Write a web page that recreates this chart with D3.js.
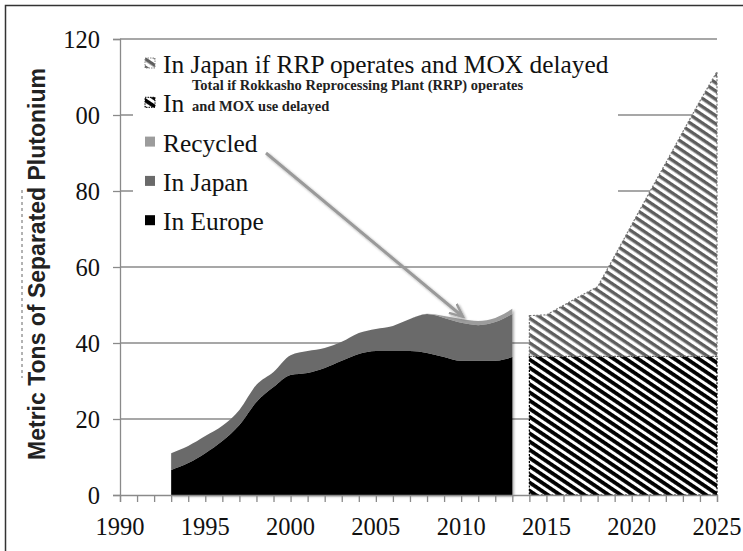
<!DOCTYPE html>
<html>
<head>
<meta charset="utf-8">
<script src="https://cdn.jsdelivr.net/npm/d3@7"></script>
<style>
  html, body { margin: 0; padding: 0; background: #fff; }
  svg { display: block; }
</style>
</head>
<body>
<svg id="chart" width="743" height="551"></svg>
<script>
// historical stock, metric tons
const years = [1993, 1994, 1995, 1996, 1997, 1998, 1999, 2000, 2001, 2002, 2003, 2004, 2005, 2006, 2007, 2008, 2009, 2010, 2011, 2012, 2013];
const inEurope = [6.6, 8.4, 11.0, 14.2, 18.4, 24.5, 28.4, 31.6, 32.1, 33.4, 35.3, 37.1, 37.9, 37.9, 37.9, 37.4, 36.3, 35.3, 35.3, 35.3, 36.3];
const inJapan = [4.4, 4.5, 4.5, 4.0, 4.0, 4.5, 4.0, 5.2, 5.8, 5.3, 5.0, 5.5, 5.8, 6.6, 8.4, 10.2, 10.3, 10.0, 9.4, 10.2, 11.3];
const recycled = [0, 0, 0, 0, 0, 0, 0, 0, 0, 0, 0, 0, 0, 0, 0, 0.1, 0.5, 1.0, 1.1, 1.1, 1.4];

// projection if RRP operates and MOX delayed
const projYears = [2014, 2015, 2016, 2017, 2018, 2019, 2020, 2021, 2022, 2023, 2024, 2025];
const projEurope = [36.5, 36.5, 36.5, 36.5, 36.5, 36.5, 36.5, 36.5, 36.5, 36.5, 36.5, 36.5];
const projJapan = [10.7, 10.9, 13.4, 15.9, 18.3, 26.4, 34.6, 42.8, 50.9, 59.1, 67.2, 74.9];

const yTicks = [0, 20, 40, 60, 80, 100, 120];
const yTickLabels = ['0', '20', '40', '60', '80', '00', '120'];
const xTickLabels = [1990, 1995, 2000, 2005, 2010, 2015, 2020, 2025];

const legendItems = [
  { key: 'jpRRP', label: 'In Japan if RRP operates and MOX delayed' },
  { key: 'euRRP', label: 'In Europe if RRP operates and MOX delayed' },
  { key: 'recycled', label: 'Recycled' },
  { key: 'japan', label: 'In Japan' },
  { key: 'europe', label: 'In Europe' }
];

const SERIF = '"Liberation Serif", "Times New Roman", serif';
const SANS = '"Liberation Sans", Arial, sans-serif';
const GRID = '#8a8a8a';

const svg = d3.select('#chart');
const x = d3.scaleLinear().domain([1990, 2025]).range([120, 717]);
const y = d3.scaleLinear().domain([0, 120]).range([495, 39]);

// patterns
const defs = svg.append('defs');
function stripes(id, color, w) {
  const p = defs.append('pattern').attr('id', id).attr('patternUnits', 'userSpaceOnUse')
    .attr('width', 10).attr('height', 6.8).attr('patternTransform', 'rotate(34)');
  p.append('rect').attr('width', 10).attr('height', 6.8).attr('fill', '#fff');
  p.append('rect').attr('y', 0).attr('width', 10).attr('height', w).attr('fill', color);
}
stripes('hatch-gray', '#5e5e5e', 3.4);
stripes('hatch-black', '#000', 3.8);
const sh = defs.append('filter').attr('id', 'shadow').attr('x', '-20%').attr('y', '-20%').attr('width', '140%').attr('height', '140%');
sh.append('feDropShadow').attr('dx', 1.5).attr('dy', 1.5).attr('stdDeviation', 1.2).attr('flood-color', '#000').attr('flood-opacity', 0.35);
defs.append('marker').attr('id', 'arrowhead').attr('viewBox', '0 -5 10 10').attr('refX', 8).attr('refY', 0)
  .attr('markerWidth', 5).attr('markerHeight', 5).attr('orient', 'auto').attr('markerUnits', 'strokeWidth')
  .append('path').attr('d', 'M0,-4L9,0L0,4').attr('fill', 'none').attr('stroke', '#9a9a9a').attr('stroke-width', 1.6);
defs.append('clipPath').attr('id', 'legend-cut')
  .append('rect').attr('x', 130).attr('y', 40).attr('width', 59).attr('height', 120);

// frame
svg.append('rect').attr('x', 5.5).attr('y', 5.5).attr('width', 760).attr('height', 560)
  .attr('fill', 'none').attr('stroke', '#333').attr('stroke-width', 1.5);

// gridlines
svg.append('g').selectAll('line').data(yTicks.slice(1)).join('line')
  .attr('x1', x(1990)).attr('x2', x(2025)).attr('y1', d => y(d)).attr('y2', d => y(d))
  .attr('stroke', GRID).attr('stroke-width', 1.3);

// historical stacked areas
const hist = years.map((yr, i) => ({ year: yr, europe: inEurope[i], japan: inJapan[i], recycled: recycled[i] }));
const histStack = d3.stack().keys(['europe', 'japan', 'recycled'])(hist);
const histColors = { europe: '#000', japan: '#6a6a6a', recycled: '#9c9c9c' };
const area = d3.area().x(d => x(d.data.year)).y0(d => y(d[0])).y1(d => y(d[1])).curve(d3.curveMonotoneX);
const histG = svg.append('g').attr('filter', 'url(#shadow)');
histG.selectAll('path').data(histStack).join('path')
  .attr('d', area).attr('fill', d => histColors[d.key]);

// projection stacked areas
const proj = projYears.map((yr, i) => ({ year: yr, euRRP: projEurope[i], jpRRP: projJapan[i] }));
const projStack = d3.stack().keys(['euRRP', 'jpRRP'])(proj);
const projArea = d3.area().x(d => x(d.data.year)).y0(d => y(d[0])).y1(d => y(d[1]));
const projFill = { euRRP: 'url(#hatch-black)', jpRRP: 'url(#hatch-gray)' };
const projStroke = { euRRP: '#000', jpRRP: '#777' };
svg.append('g').selectAll('path').data(projStack).join('path')
  .attr('d', projArea).attr('fill', d => projFill[d.key])
  .attr('stroke', d => projStroke[d.key]).attr('stroke-width', 1.2).attr('stroke-dasharray', '2,1.5');

// axes
const yAxis = svg.append('g').attr('transform', `translate(${x(1990)},0)`)
  .call(d3.axisLeft(y).tickValues(yTicks).tickSize(7).tickPadding(13)
    .tickFormat((d, i) => yTickLabels[i]));
yAxis.selectAll('path, line').attr('stroke', GRID).attr('stroke-width', 1.3);
yAxis.selectAll('text').attr('font-family', SERIF).attr('font-size', 24.5).attr('fill', '#111').attr('dy', '0.33em');

const xAxis = svg.append('g').attr('transform', `translate(0,${y(0)})`)
  .call(d3.axisBottom(x).tickValues(d3.range(1990, 2026)).tickSize(7).tickFormat(''));
xAxis.selectAll('path, line').attr('stroke', GRID).attr('stroke-width', 1.3);
svg.append('g').selectAll('text').data(xTickLabels).join('text')
  .attr('x', d => x(d)).attr('y', 535).attr('text-anchor', 'middle')
  .attr('font-family', SERIF).attr('font-size', 24.5).attr('fill', '#111').text(d => d);

// y axis title (plus faint stray mark left of it)
svg.append('line').attr('x1', 22).attr('x2', 22).attr('y1', 190).attr('y2', 378)
  .attr('stroke', '#666').attr('stroke-width', 1).attr('stroke-dasharray', '3,3');
svg.append('text').attr('transform', 'translate(45,264) rotate(-90)').attr('text-anchor', 'middle')
  .attr('font-family', SANS).attr('font-weight', 'bold').attr('font-size', 23).attr('fill', '#222')
  .text('Metric Tons of Separated Plutonium');

// legend
const leg = svg.append('g');
leg.append('rect').attr('x', 133).attr('y', 45).attr('width', 485).attr('height', 200).attr('fill', '#fff');
const swatchFill = { jpRRP: 'url(#hatch-gray)', euRRP: 'url(#hatch-black)', recycled: '#9c9c9c', japan: '#6a6a6a', europe: '#000' };
legendItems.forEach((it, i) => {
  const by = 73 + i * 39.3;
  leg.append('rect').attr('x', 145).attr('y', by - 15).attr('width', 10).attr('height', 10)
    .attr('fill', swatchFill[it.key])
    .attr('stroke', it.key === 'euRRP' ? '#000' : it.key === 'jpRRP' ? '#888' : 'none')
    .attr('stroke-width', 1).attr('stroke-dasharray', '1.5,1');
  // second entry is covered by the note box in the original, only "In" shows
  leg.append('text').attr('x', 163).attr('y', by).attr('font-family', SERIF).attr('font-size', 25.4)
    .attr('fill', '#111').attr('clip-path', it.key === 'euRRP' ? 'url(#legend-cut)' : null)
    .text(it.label);
});

// overlaid note box
const note = svg.append('text').attr('font-family', SERIF).attr('font-weight', 'bold').attr('font-size', 14.5).attr('fill', '#222');
note.append('tspan').attr('x', 192).attr('y', 90).text('Total if Rokkasho Reprocessing Plant (RRP) operates');
note.append('tspan').attr('x', 192).attr('y', 111).text('and MOX use delayed');

// arrow to recycled band
svg.append('line').attr('x1', 266).attr('y1', 153).attr('x2', 462).attr('y2', 316)
  .attr('stroke', '#9a9a9a').attr('stroke-width', 3).attr('marker-end', 'url(#arrowhead)')
  .attr('filter', 'url(#shadow)');
</script>
</body>
</html>
